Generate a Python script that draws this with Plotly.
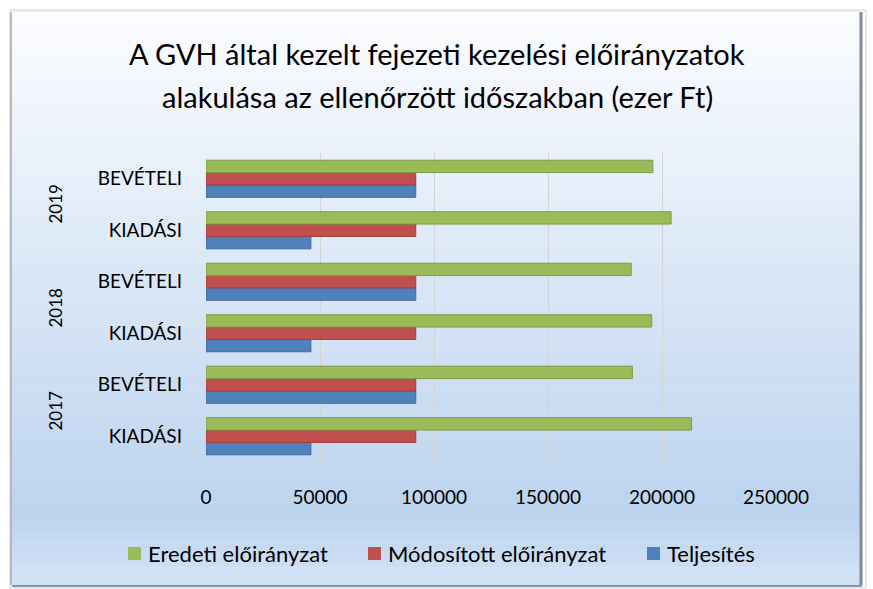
import plotly.graph_objects as go

categories = ["2017 KIADÁSI", "2017 BEVÉTELI", "2018 KIADÁSI", "2018 BEVÉTELI", "2019 KIADÁSI", "2019 BEVÉTELI"]
type_labels = ["KIADÁSI", "BEVÉTELI", "KIADÁSI", "BEVÉTELI", "KIADÁSI", "BEVÉTELI"]
years = ["2017", "2018", "2019"]
title_lines = ["A GVH által kezelt fejezeti kezelési előirányzatok",
               "alakulása az ellenőrzött időszakban (ezer Ft)"]
series_names = ["Eredeti előirányzat", "Módosított előirányzat", "Teljesítés"]

eredeti = [213000, 187000, 195500, 186500, 204000, 196000]
modositott = [92000, 92000, 92000, 92000, 92000, 92000]
teljesites = [46000, 92000, 46000, 92000, 46000, 92000]

W, H = 873, 589
L, R, T, B = 206, 776, 153, 462
FONT = "Lato, Carlito, Calibri, sans-serif"
COLORS = {"Eredeti előirányzat": ("#9bbb59", "#7f9a47"),
          "Módosított előirányzat": ("#c0504d", "#9e3e3b"),
          "Teljesítés": ("#4f81bd", "#3d6a9f")}

def px(x):
    return (x - L) / (R - L)

def py(y):
    return (B - y) / (B - T)

fig = go.Figure()
for name, vals in [("Teljesítés", teljesites), ("Módosított előirányzat", modositott),
                   ("Eredeti előirányzat", eredeti)]:
    fill, edge = COLORS[name]
    fig.add_trace(go.Bar(name=name, y=categories, x=vals, orientation="h",
                         marker=dict(color=fill, line=dict(color=edge, width=1))))

# background gradient bands
shapes = []
def lerp(c1, c2, t):
    return tuple(round(a + (b - a) * t) for a, b in zip(c1, c2))
top = (252, 253, 255)
mid = (188, 211, 239)
bot = (212, 227, 246)
y0, y1, y2 = 12, 515, 585
xa, xb = 12, 860
shapes.append(dict(type="rect", xref="paper", yref="paper", x0=px(10), x1=px(866),
                   y0=py(588), y1=py(10), line=dict(color="#d0d0d0", width=1), layer="below"))
n = 40
for i in range(n):
    ya = y0 + (y1 - y0) * i / n
    yb = y0 + (y1 - y0) * (i + 1) / n
    c = lerp(top, mid, (i + 0.5) / n)
    shapes.append(dict(type="rect", xref="paper", yref="paper", x0=px(xa), x1=px(xb),
                       y0=py(yb) - 0.001, y1=py(ya), fillcolor="rgb(%d,%d,%d)" % c,
                       line=dict(width=0), layer="below"))
m = 8
for i in range(m):
    ya = y1 + (y2 - y1) * i / m
    yb = y1 + (y2 - y1) * (i + 1) / m
    c = lerp(mid, bot, (i + 0.5) / m)
    shapes.append(dict(type="rect", xref="paper", yref="paper", x0=px(xa), x1=px(xb),
                       y0=py(yb) - 0.001, y1=py(ya), fillcolor="rgb(%d,%d,%d)" % c,
                       line=dict(width=0), layer="below"))
# shadow edges
shapes.append(dict(type="line", xref="paper", yref="paper", x0=px(xb + 1), x1=px(xb + 1),
                   y0=py(y2), y1=py(y0), line=dict(color="#7f8a99", width=3), layer="below"))
shapes.append(dict(type="line", xref="paper", yref="paper", x0=px(xa), x1=px(xb + 2),
                   y0=py(y2 + 1), y1=py(y2 + 1), line=dict(color="#8a94a3", width=2), layer="below"))
shapes.append(dict(type="line", xref="paper", yref="paper", x0=px(xa - 1), x1=px(xa - 1),
                   y0=py(y2), y1=py(y0), line=dict(color="#b8b8b8", width=2), layer="below"))
shapes.append(dict(type="line", xref="paper", yref="paper", x0=px(xa), x1=px(xb),
                   y0=py(y0 - 1), y1=py(y0 - 1), line=dict(color="#e0e0e0", width=1), layer="below"))

annotations = []
year_pos = [0.5, 2.5, 4.5]
for yr, pos in zip(years, year_pos):
    annotations.append(dict(text=yr, x=px(55), xref="paper", xanchor="center",
                            y=pos, yref="y", yanchor="middle",
                            textangle=-90, showarrow=False,
                            font=dict(size=17, color="#000000", family=FONT)))
for line, yc in zip(title_lines, [53, 96]):
    annotations.append(dict(text=line, x=px(437), xref="paper", xanchor="center",
                            y=py(yc), yref="paper", yanchor="middle", showarrow=False,
                            font=dict(size=29, color="#000000", family=FONT)))

# legend (drawn as swatches + labels)
leg_sq_x = [128, 368, 647]
leg_cy = 553
for name, sx in zip(series_names, leg_sq_x):
    fill, edge = COLORS[name]
    shapes.append(dict(type="rect", xref="paper", yref="paper", x0=px(sx), x1=px(sx + 13),
                       y0=py(leg_cy + 7), y1=py(leg_cy - 6), fillcolor=fill,
                       line=dict(width=0), layer="above"))
    annotations.append(dict(text=name, x=px(sx + 18), xref="paper", xanchor="left",
                            y=py(leg_cy), yref="paper", yanchor="middle", showarrow=False,
                            font=dict(size=22, color="#000000", family=FONT)))

fig.update_layout(
    width=W, height=H,
    margin=dict(l=L, r=W - R, t=T, b=H - B, autoexpand=False),
    paper_bgcolor="white",
    plot_bgcolor="rgba(0,0,0,0)",
    barmode="group",
    bargap=0.28,
    bargroupgap=0,
    font=dict(family=FONT, size=19, color="#000000"),
    xaxis=dict(range=[0, 250000], tickvals=[0, 50000, 100000, 150000, 200000, 250000],
               ticktext=["0", "50000", "100000", "150000", "200000", "250000"],
               showgrid=True, gridcolor="#d4d4d4", gridwidth=1, zeroline=False,
               showline=False, ticks="", ticklabelstandoff=22, tickfont=dict(size=19),
               tickangle=0),
    yaxis=dict(type="category", categoryorder="array", categoryarray=categories,
               tickvals=categories, ticktext=type_labels, range=[-0.5, 5.5],
               showgrid=False, zeroline=False, showline=False, ticks="",
               ticklabelstandoff=23, tickfont=dict(size=19)),
    shapes=shapes,
    annotations=annotations,
    showlegend=False,
)

fig.write_html("out.html", config={"displayModeBar": False},
               post_script="document.body.style.margin='0';document.body.style.overflow='hidden';")
